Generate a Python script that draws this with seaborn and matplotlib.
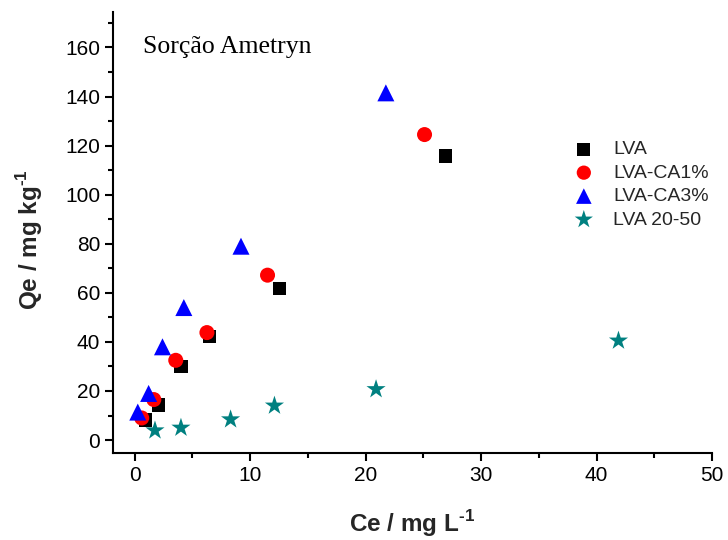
import matplotlib
matplotlib.use("Agg")
import matplotlib.pyplot as plt
import seaborn as sns
import pandas as pd
from matplotlib.ticker import MultipleLocator

sns.set_theme(style="ticks")
plt.rcParams['font.family'] = ['Liberation Sans', 'DejaVu Sans']
plt.rcParams['mathtext.fontset'] = 'custom'
plt.rcParams['mathtext.rm'] = 'Liberation Sans'
plt.rcParams['mathtext.bf'] = 'Liberation Sans:bold'

series = ["LVA", "LVA-CA1%", "LVA-CA3%", "LVA 20-50"]
lva_x = [0.9, 2.05, 4.0, 6.5, 12.55, 26.9]
lva_y = [8.2, 14.3, 30.0, 42.3, 61.8, 115.7]
ca1_x = [0.6, 1.65, 3.55, 6.25, 11.5, 25.1]
ca1_y = [9.0, 16.5, 32.5, 43.8, 67.2, 124.5]
ca3_x = [0.26, 1.2, 2.4, 4.25, 9.2, 21.75]
ca3_y = [11.4, 19.0, 38.0, 54.0, 79.0, 141.5]
s2050_x = [1.75, 4.0, 8.3, 12.1, 20.9, 41.9]
s2050_y = [3.9, 5.0, 8.4, 14.0, 20.7, 40.5]

xs = [lva_x, ca1_x, ca3_x, s2050_x]
ys = [lva_y, ca1_y, ca3_y, s2050_y]
colors = ["#000000", "#ff0000", "#0000ff", "#008080"]
markers = ["s", "o", "^", "*"]
sizes = [92, 117, 150, 210]
leg_sizes = [85, 105, 125, 190]

fig = plt.figure(figsize=(7.28, 5.4), dpi=100)
ax = fig.add_axes([0.155, 0.161, 0.823, 0.817])

for name, x, y, c, m, s in zip(series, xs, ys, colors, markers, sizes):
    df = pd.DataFrame({"Ce": x, "Qe": y})
    sns.scatterplot(data=df, x="Ce", y="Qe", ax=ax, color=c, marker=m, s=s,
                    edgecolor="none", linewidth=0, label=name, zorder=3)

ax.set_xlim(-1.9, 50)
ax.set_ylim(-5.3, 174.5)
ax.xaxis.set_major_locator(MultipleLocator(10))
ax.xaxis.set_minor_locator(MultipleLocator(5))
ax.yaxis.set_major_locator(MultipleLocator(20))
ax.yaxis.set_minor_locator(MultipleLocator(10))
ax.tick_params(axis="both", which="major", direction="out", length=6, width=1.5,
               labelsize=15, color="black", labelcolor="black", pad=3)
ax.tick_params(axis="both", which="minor", direction="out", length=3.5, width=1.5,
               color="black")
for sp in ["top", "right"]:
    ax.spines[sp].set_visible(False)
for sp in ["left", "bottom"]:
    ax.spines[sp].set_linewidth(1.5)
    ax.spines[sp].set_color("black")

ax.set_xlabel("Ce / mg L$^{\\mathbf{\u20101}}$", fontsize=17.5, fontweight="bold", labelpad=17)
ax.set_ylabel("Qe / mg kg$^{\\mathbf{\u20101}}$", fontsize=17.5, fontweight="bold")
ax.yaxis.set_label_coords(-0.113, 0.485)

ax.text(0.05, 0.92, "Sorção Ametryn", transform=ax.transAxes, fontsize=18.5,
        family=["Liberation Serif", "DejaVu Serif"], color="black", va="center")

leg = ax.legend(loc="upper left", bbox_to_anchor=(0.765, 0.708), frameon=False,
                fontsize=14, handletextpad=0.85, labelspacing=0.3,
                handlelength=1.3, borderaxespad=0, borderpad=0)
for h, ls in zip(leg.legend_handles, leg_sizes):
    try:
        h.set_sizes([ls])
    except Exception:
        pass

fig.savefig("out.png", dpi=100)
